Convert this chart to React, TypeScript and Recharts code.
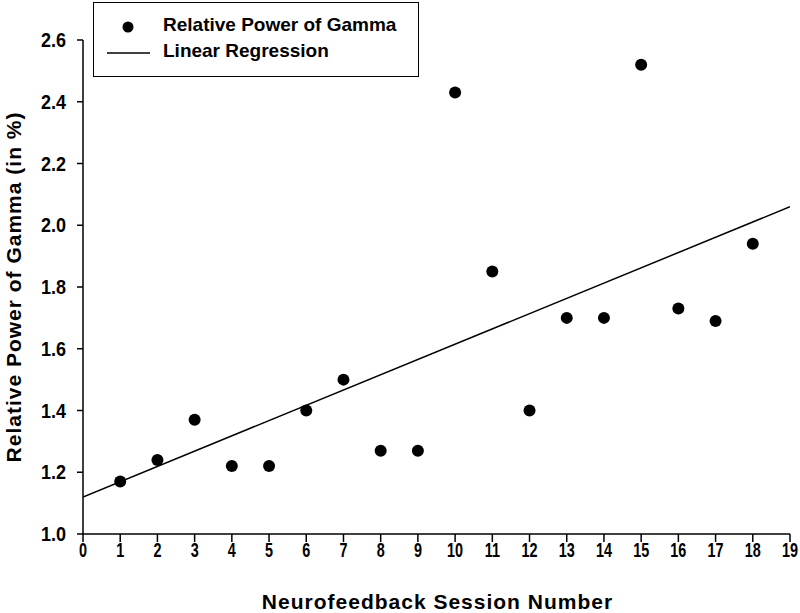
import React from 'react';
import { ComposedChart, Scatter, Line, XAxis, YAxis } from 'recharts';

const sessions = [1, 2, 3, 4, 5, 6, 7, 8, 9, 10, 11, 12, 13, 14, 15, 16, 17, 18];
const gammaPower = [1.17, 1.24, 1.37, 1.22, 1.22, 1.4, 1.5, 1.27, 1.27, 2.43, 1.85, 1.4, 1.7, 1.7, 2.52, 1.73, 1.69, 1.94];
const regressionX = [0, 19];
const regressionY = [1.12, 2.06];
const xTicks = [0, 1, 2, 3, 4, 5, 6, 7, 8, 9, 10, 11, 12, 13, 14, 15, 16, 17, 18, 19];
const yTicks = [1.0, 1.2, 1.4, 1.6, 1.8, 2.0, 2.2, 2.4, 2.6];

const points = sessions.map((s, i) => ({ x: s, y: gammaPower[i] }));
const regression = regressionX.map((x, i) => ({ x, y: regressionY[i] }));

const sans = '"Liberation Sans", Arial, sans-serif';

// narrow, tall tick digits like the original
function XTick(props: any) {
  const { x, y, payload } = props;
  return (
    <text
      transform={`translate(${x},${y + 15}) scale(0.8,1.15)`}
      textAnchor="middle"
      fontFamily={sans}
      fontWeight="bold"
      fontSize={18}
      fill="#000"
    >
      {payload.value}
    </text>
  );
}

function YTick(props: any) {
  const { x, y, payload } = props;
  return (
    <text
      transform={`translate(${x},${y + 7}) scale(1,1.15)`}
      textAnchor="end"
      fontFamily={sans}
      fontWeight="bold"
      fontSize={18}
      fill="#000"
    >
      {payload.value.toFixed(1)}
    </text>
  );
}

function LegendBox() {
  return (
    <div
      style={{
        position: 'absolute',
        left: 93,
        top: 2,
        border: '1.5px solid #000',
        background: '#fff',
        width: 326,
        height: 75,
        boxSizing: 'border-box',
        fontFamily: sans,
        fontWeight: 'bold',
        fontSize: 19,
        color: '#000',
      }}
    >
      <svg width={60} height={72} style={{ position: 'absolute', left: 0, top: 0 }}>
        <circle cx={34} cy={24} r={5.5} fill="#000" />
        <line x1={13} x2={56} y1={50} y2={50} stroke="#000" strokeWidth={1.5} />
      </svg>
      <div style={{ position: 'absolute', left: 69, top: 11 }}>Relative Power of Gamma</div>
      <div style={{ position: 'absolute', left: 69, top: 37 }}>Linear Regression</div>
    </div>
  );
}

export default function App() {
  return (
    <div style={{ position: 'absolute', left: 0, top: 0, width: 800, height: 613, background: '#fff' }}>
      <ComposedChart width={800} height={613} margin={{ top: 40, right: 10, bottom: 0, left: 0 }}>
        <XAxis
          type="number"
          dataKey="x"
          domain={[0, 19]}
          ticks={xTicks}
          interval={0}
          allowDataOverflow
          axisLine={{ stroke: '#000', strokeWidth: 1.5 }}
          tickLine={{ stroke: '#000', strokeWidth: 1.5 }}
          tickSize={8}
          tickMargin={0}
          height={79}
          tick={<XTick />}
          label={(props: any) => {
            const vb = props.viewBox;
            return (
              <text x={vb.x + vb.width / 2 + 1} y={609} textAnchor="middle" fontFamily={sans} fontWeight="bold" fontSize={21} letterSpacing={1} fill="#000">
                Neurofeedback Session Number
              </text>
            );
          }}
        />
        <YAxis
          type="number"
          dataKey="y"
          domain={[1, 2.6]}
          ticks={yTicks}
          interval={0}
          allowDataOverflow
          width={83}
          axisLine={{ stroke: '#000', strokeWidth: 1.5 }}
          tickLine={{ stroke: '#000', strokeWidth: 1.5 }}
          tickSize={6}
          tickMargin={11}
          tick={<YTick />}
          label={(props: any) => {
            const vb = props.viewBox;
            const cy = vb.y + vb.height / 2;
            return (
              <text x={21} y={cy} transform={`rotate(-90 21 ${cy})`} textAnchor="middle" fontFamily={sans} fontWeight="bold" fontSize={21} letterSpacing={1} fill="#000">
                Relative Power of Gamma (in %)
              </text>
            );
          }}
        />
        <Line
          data={regression}
          dataKey="y"
          type="linear"
          stroke="#000"
          strokeWidth={1.5}
          dot={false}
          activeDot={false}
          isAnimationActive={false}
        />
        <Scatter
          data={points}
          dataKey="y"
          fill="#000"
          isAnimationActive={false}
          shape={(p: any) => <circle cx={p.cx} cy={p.cy} r={6} fill="#000" />}
        />
      </ComposedChart>
      <LegendBox />
    </div>
  );
}
